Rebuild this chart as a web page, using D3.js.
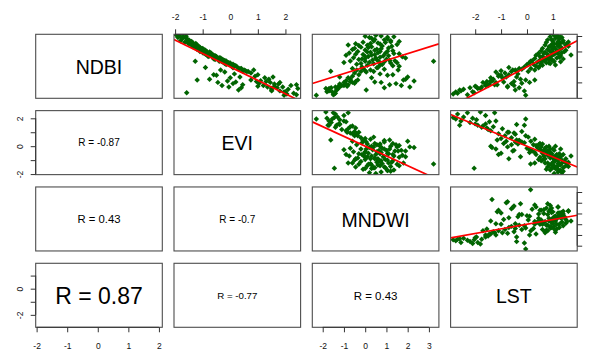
<!DOCTYPE html>
<html>
<head>
<meta charset="utf-8">
<script src="https://cdn.jsdelivr.net/npm/d3@7"></script>
<style>
  body { margin: 0; background: #fff; }
  text { font-family: "Liberation Sans", Arial, sans-serif; }
</style>
</head>
<body>
<script>
// variable names on the diagonal
const vars = ["NDBI", "EVI", "MNDWI", "LST"];

// standardised values (forest, water, transition, urban groups)
const ndbi = [
  -1.75,-1.62,-1.7,-1.55,-1.45,-1.8,-1.35,-1.6,-1.25,-1.5,-1.3,-1.67,-1.4,-1.2,-1.1,-1.0,-1.15,-0.95,-1.84,-1.55,
  -0.33,-0.98,-0.54,-1.08,-0.65,-0.91,-1.5,-0.04,-0.5,-1.2,-0.8,-1.35,0.37,-0.7,-1.0,-0.2,-1.15,-0.85,-0.45,-1.3,
  -1.4,-1.3,-1.1,-1.2,-0.9,-0.8,-0.6,-0.7,-0.4,-0.5,-0.3,-0.2,-1.0,-0.95,-0.65,-1.05,-0.25,-0.1,-0.85,-1.25,
  2.05,2.0,1.95,1.9,1.85,1.8,1.75,1.7,1.68,1.62,1.6,1.55,1.5,1.45,1.4,1.42,1.35,1.3,1.28,1.22,
  1.2,1.15,1.1,1.05,1.0,1.0,0.95,0.9,0.88,0.85,0.8,0.78,0.75,0.7,0.68,0.65,0.6,0.58,0.55,0.5,
  0.48,0.45,0.4,0.38,0.35,0.3,0.28,0.25,0.2,0.18,0.15,0.1,0.05,0.0,-0.05,-0.1,-0.15,-0.2,-0.28,-0.3,
  1.58,1.48,1.38,1.33,1.25,1.18,1.12,1.08,1.02,0.97,0.92,0.87,0.82,0.77,0.72,0.67,0.62,0.57,0.52,0.47,
  0.42,0.37,0.33,0.27,0.22,0.12,0.08,1.52,1.65,1.78,1.92,1.98
];
const evi = [
  2.05,1.95,2.3,1.8,2.1,2.4,1.7,2.0,1.6,1.5,1.9,-1.58,2.45,2.2,1.75,1.45,2.4,1.3,1.95,1.5,
  -0.2,0.2,-0.5,0.1,0.35,-0.1,0.3,-0.9,-0.6,-0.3,-0.75,0.4,-1.27,0.0,-0.45,-0.35,0.45,-1.2,0.15,-0.05,
  1.5,1.35,1.6,1.2,1.1,1.4,0.9,1.25,0.75,1.0,0.6,0.85,1.8,0.95,1.55,1.05,0.55,0.4,0.75,1.0,
  -1.95,-1.85,-1.7,-1.9,-1.6,-1.75,-1.5,-1.8,-1.55,-1.45,-1.65,-1.35,-1.5,-1.3,-1.4,-1.2,-1.25,-1.35,-1.1,-1.2,
  -1.0,-1.15,-0.95,-1.05,-0.85,-1.1,-0.9,-0.7,-0.95,-0.8,-0.65,-0.85,-0.6,-0.75,-0.5,-0.65,-0.4,-0.6,-0.45,-0.3,
  -0.55,-0.25,-0.35,-0.15,-0.3,-0.1,-0.25,0.0,-0.05,0.1,-0.15,0.15,0.05,0.25,0.1,0.35,0.3,0.5,0.45,0.65,
  -1.55,-1.4,-1.3,-1.15,-1.3,-1.05,-1.2,-0.9,-1.0,-0.75,-1.0,-0.7,-0.9,-0.7,-0.55,-0.8,-0.55,-0.35,-0.6,-0.4,
  -0.2,-0.4,-0.2,-0.05,-0.2,0.0,0.2,-1.25,-1.4,-1.55,-1.75,-1.6
];
const mndwi = [
  -1.45,-1.55,-1.4,-1.7,-1.3,-1.5,-1.6,-1.8,-1.25,-1.35,-1.2,-1.45,-1.85,-1.0,-0.9,-0.6,-0.8,-0.45,-2.3,-1.75,
  0.05,0.45,1.05,1.45,2.0,2.3,0.05,0.6,1.3,1.7,1.9,0.9,3.22,0.3,0.75,1.55,1.15,1.8,0.7,2.1,
  -1.7,-1.4,-1.2,-1.1,-0.9,-0.7,-0.6,-0.8,-0.5,-0.3,-0.2,-0.4,-1.0,-0.7,-1.2,-0.5,0.0,-0.1,-0.35,-0.85,
  0.5,0.75,1.35,0.2,0.3,1.05,0.9,1.2,0.4,1.2,-0.1,0.6,-0.45,1.5,0.1,-0.8,0.8,0.3,-0.2,1.1,
  -0.5,0.55,0.0,1.3,-0.35,0.7,0.25,-0.75,0.95,1.6,-0.1,0.45,-0.9,0.85,0.15,1.75,-0.55,0.5,0.0,1.0,
  -0.3,0.35,1.4,-0.7,0.65,0.2,-1.0,1.2,0.4,-0.4,0.8,0.1,1.6,-0.15,0.55,-0.6,0.9,0.25,-1.62,0.4,
  0.95,0.7,-0.3,1.25,0.15,0.75,-0.6,0.45,1.05,0.1,0.6,1.35,-0.45,0.3,1.1,0.0,0.7,1.9,-0.15,0.55,
  1.15,0.0,0.9,1.5,-0.2,0.7,1.3,0.25,1.6,0.45,1.05,0.0
];
const lst = [
  -2.85,-2.75,-2.68,-2.55,-2.45,-2.3,-2.2,-2.1,-2.0,-2.6,-1.95,-2.04,-1.8,-1.6,-1.45,-1.7,-1.25,-1.55,-0.05,-0.1,
  -1.2,-0.9,-1.0,-0.6,-0.8,-1.35,-0.45,-0.7,-1.1,-0.5,-0.25,-0.3,0.14,-1.4,0.1,-0.55,-1.15,0.3,-0.35,-0.75,
  -1.9,-1.75,-1.6,-1.5,-1.4,-1.3,-1.1,-0.95,-0.85,-0.7,-0.6,-0.45,-1.2,-0.5,-0.4,-0.2,-1.0,-0.3,-0.05,-0.75,
  1.05,1.2,0.9,1.35,1.1,1.25,0.8,1.4,1.0,1.6,0.75,1.3,1.15,0.95,1.5,0.7,1.2,0.85,1.05,1.35,
  0.6,1.0,1.25,0.55,0.9,1.45,0.7,1.1,0.45,1.2,0.8,1.0,0.35,1.3,0.6,0.9,0.75,1.15,0.3,0.65,
  0.95,0.5,0.2,0.7,1.05,0.4,0.1,0.85,0.55,0.25,0.0,0.6,0.35,-0.1,0.45,0.15,-0.2,0.3,-0.4,0.05,
  1.4,1.05,1.25,1.6,0.95,1.1,0.8,1.5,1.2,1.0,1.35,0.65,1.05,1.7,0.95,0.5,1.25,0.8,1.4,0.85,
  1.0,0.6,1.3,0.75,0.9,1.1,0.5,1.55,1.2,0.95,1.3,1.15
];

// axis ranges and ticks per variable
const domains = [[-2.03, 2.11], [-2.04, 2.55], [-2.49, 3.47], [-2.95, 1.94]];
const tickValues = [[-2, -1, 0, 1, 2], [-2, -1, 0, 1, 2], [-2, -1, 0, 1, 2, 3], [-2, -1, 0, 1]];
const sideLabels = [[], [-2, 0, 2], [], [-2, 0]];

// lower panels: [row, col] pairs and the printed correlation
const corrPairs = [[1, 0], [2, 0], [2, 1], [3, 0], [3, 1], [3, 2]];
const corrValues = [-0.87, 0.43, -0.7, 0.87, -0.77, 0.43];
const corrFontSize = [10, 11.3, 10, 23, 9.7, 11.5];

const columns = [ndbi, evi, mndwi, lst];
const n = vars.length;
const W = 592, H = 350;
const x0 = 35.7, y0 = 34.3, stepX = 138.3, stepY = 76.33;
const panelW = 126.6, panelH = 64;

const svg = d3.select("body").append("svg")
  .attr("width", W)
  .attr("height", H);
svg.append("rect").attr("width", W).attr("height", H).attr("fill", "#fff");

const xScale = j => d3.scaleLinear().domain(domains[j]).range([x0 + j * stepX, x0 + j * stepX + panelW]);
const yScale = i => d3.scaleLinear().domain(domains[i]).range([y0 + i * stepY + panelH, y0 + i * stepY]);

function corrOf(a, b) {
  return corrPairs.findIndex(p => (p[0] === a && p[1] === b) || (p[0] === b && p[1] === a));
}

for (let i = 0; i < n; i++) {
  for (let j = 0; j < n; j++) {
    const x = xScale(j), y = yScale(i);
    const left = x.range()[0], top = y.range()[1];
    const cx = left + panelW / 2, cy = top + panelH / 2;
    const g = svg.append("g");

    if (i === j) {
      g.append("text")
        .attr("x", cx).attr("y", cy).attr("dy", "0.4em")
        .attr("text-anchor", "middle")
        .attr("font-size", 19.5)
        .text(vars[i]);
    } else if (i < j) {
      const clipId = "clip" + i + j;
      g.append("clipPath").attr("id", clipId)
        .append("rect").attr("x", left).attr("y", top).attr("width", panelW).attr("height", panelH);
      const pts = g.append("g").attr("clip-path", "url(#" + clipId + ")");
      const xs = columns[j], ys = columns[i];
      pts.selectAll("path.pt")
        .data(d3.range(xs.length))
        .enter().append("path")
        .attr("class", "pt")
        .attr("d", d3.symbol(d3.symbolSquare, 15))
        .attr("transform", k => `translate(${x(xs[k])},${y(ys[k])}) rotate(45)`)
        .attr("fill", "#006400");
      // least squares line of standardised data: slope = r
      const r = corrValues[corrOf(i, j)];
      const dx = x.domain();
      pts.append("line")
        .attr("x1", x(dx[0])).attr("y1", y(r * dx[0]))
        .attr("x2", x(dx[1])).attr("y2", y(r * dx[1]))
        .attr("stroke", "#ff0000")
        .attr("stroke-width", 1.7);
    } else {
      const k = corrOf(i, j);
      g.append("text")
        .attr("x", cx).attr("y", cy).attr("dy", "0.37em")
        .attr("text-anchor", "middle")
        .attr("font-size", corrFontSize[k])
        .text("R = " + corrValues[k]);
    }

    g.append("rect")
      .attr("x", left).attr("y", top)
      .attr("width", panelW).attr("height", panelH)
      .attr("fill", "none")
      .attr("stroke", "#4d4d4d")
      .attr("stroke-width", 1.1);
  }
}

// R style axes: line only between first and last tick
function rAxis(side, scale, values, labelled, pos) {
  const axisFn = { top: d3.axisTop, bottom: d3.axisBottom, left: d3.axisLeft, right: d3.axisRight }[side];
  const horizontal = side === "top" || side === "bottom";
  const g = svg.append("g")
    .attr("transform", horizontal ? `translate(0,${pos})` : `translate(${pos},0)`)
    .call(axisFn(scale).tickValues(values).tickSize(5).tickSizeOuter(0)
      .tickFormat(d => labelled.includes(d) ? d : ""));
  g.select(".domain").remove();
  const a = scale(values[0]), b = scale(values[values.length - 1]);
  g.append("line")
    .attr("x1", horizontal ? a : 0).attr("x2", horizontal ? b : 0)
    .attr("y1", horizontal ? 0 : a).attr("y2", horizontal ? 0 : b)
    .attr("stroke", "#333");
  g.selectAll(".tick line").attr("stroke", "#333");
  const t = g.selectAll(".tick text")
    .attr("fill", "#111")
    .attr("font-size", 8.5)
    .attr("font-family", "Liberation Sans, Arial, sans-serif");
  if (side === "top") t.attr("y", -17.3).attr("dy", "0.35em");
  if (side === "bottom") t.attr("y", 18.3).attr("dy", "0.35em");
  if (side === "left") t.attr("x", 0).attr("y", -15.2).attr("dy", "0.35em")
    .attr("text-anchor", "middle").attr("transform", "rotate(-90)");
  if (side === "right") t.attr("x", 0).attr("y", 15.2).attr("dy", "0.35em")
    .attr("text-anchor", "middle").attr("transform", "rotate(-90)");
}

for (let j = 0; j < n; j++) {
  if (j % 2 === 1) rAxis("top", xScale(j), tickValues[j], tickValues[j], y0);
  else rAxis("bottom", xScale(j), tickValues[j], tickValues[j], y0 + (n - 1) * stepY + panelH);
}
for (let i = 0; i < n; i++) {
  if (i % 2 === 1) rAxis("left", yScale(i), tickValues[i], sideLabels[i], x0);
  else rAxis("right", yScale(i), tickValues[i], sideLabels[i], x0 + (n - 1) * stepX + panelW);
}
</script>
</body>
</html>
